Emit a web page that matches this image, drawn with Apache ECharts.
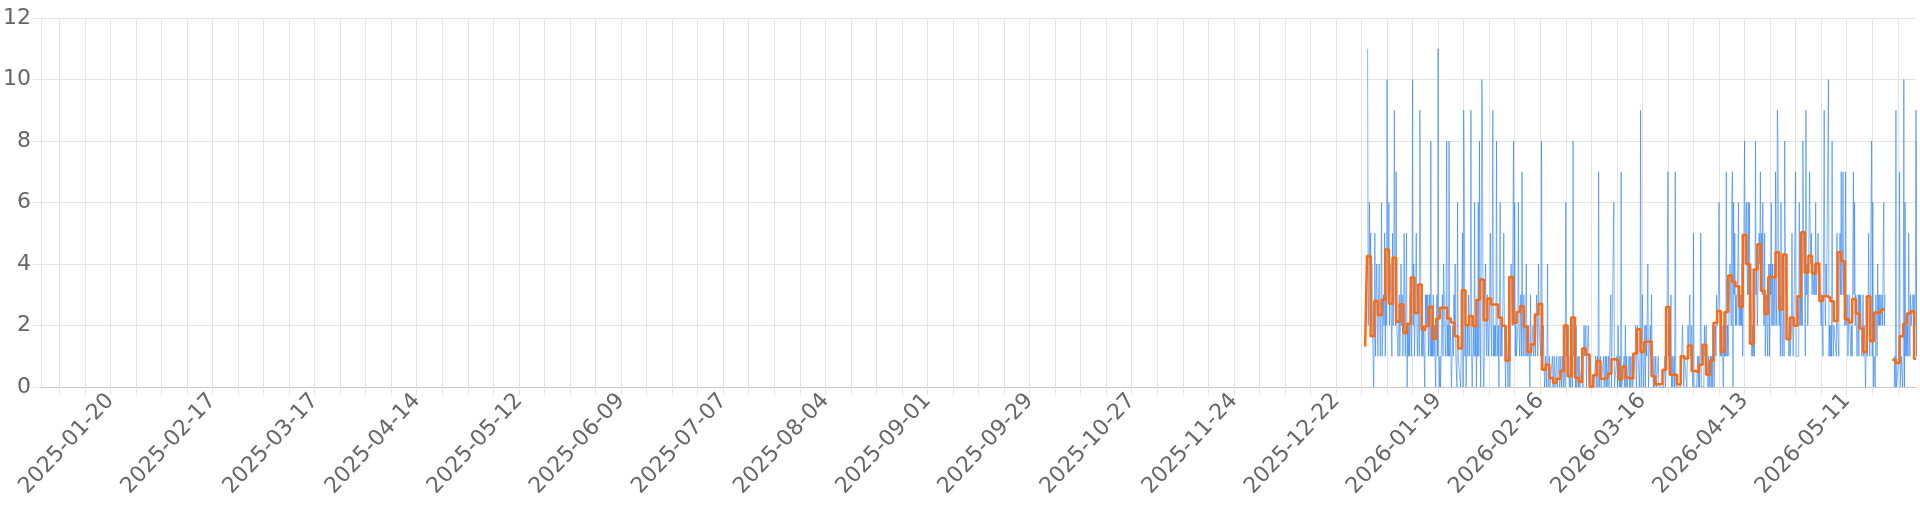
<!DOCTYPE html>
<html><head><meta charset="utf-8">
<script src="https://cdn.jsdelivr.net/npm/echarts@6/dist/echarts.min.js"></script>
<style>html,body{margin:0;padding:0;background:#fff}#c{width:1920px;height:512px}</style>
</head><body><div id="c"></div>
<script>
// ---- axis range and tick labels ----
const axisStart = [2025, 1, 1];
const axisEnd = [2026, 5, 30];
const tickLabels = ['2025-01-20','2025-02-17','2025-03-17','2025-04-14','2025-05-12','2025-06-09','2025-07-07','2025-08-04','2025-09-01','2025-09-29','2025-10-27','2025-11-24','2025-12-22','2026-01-19','2026-02-16','2026-03-16','2026-04-13','2026-05-11'];
const yTicks = [0, 2, 4, 6, 8, 10, 12];

// ---- series start (first day of data) ----
const seriesStart = [2025, 12, 30];
const samplesPerDay = 6; // blue samples every 4 hours

// ---- blue series (raw values), 6 per day ----
const blueDec = [null,null,null,null,11,2, 3,6,4,5,2,4];
const blueJan = [
2,1,0,2,5,1, 3,4,2,1,3,4, 2,1,3,6,1,2, 3,2,5,1,3,2, 10,5,3,6,2,4,
3,2,1,5,2,3, 9,3,2,7,2,2, 1,2,3,1,2,4, 2,3,1,2,5,3, 1,1,5,0,2,1,
2,1,3,2,1,3, 10,2,4,1,2,3, 5,2,1,2,3,1, 9,5,2,1,2,1, 2,1,0,3,2,3,
2,3,1,2,3,1, 8,1,2,1,3,1, 2,1,0,2,3,1, 11,1,0,1,0,1, 2,3,1,4,3,2,
1,2,8,1,2,1, 8,1,2,1,0,1, 2,1,3,2,4,1, 1,0,6,1,1,1, 1,0,1,1,5,0,
9,7,1,2,0,0, 2,1,3,2,1,3, 9,1,0,1,2,1, 6,1,2,0,2,1, 6,1,8,2,0,0,
10,8,1,0,1,1];
const blueFeb = [
4,2,1,3,2,1, 2,3,5,2,1,4, 9,1,2,1,2,1, 8,2,1,2,0,3, 6,1,2,1,2,2,
5,2,1,0,2,2, 1,0,2,1,0,1, 4,3,2,2,8,2, 6,1,2,1,1,2, 6,2,1,2,3,1,
7,2,1,3,2,1, 2,4,1,2,1,2, 1,0,3,1,1,1, 2,1,1,2,1,1, 3,2,1,4,2,2,
2,1,8,2,1,2, 1,0,0,1,0,1, 4,0,0,1,0,0, 0,0,1,0,0,1, 0,0,0,1,0,0,
0,1,0,0,1,0, 0,1,0,0,1,0, 6,1,2,1,1,1, 0,1,0,0,1,0, 8,1,2,1,0,2,
0,0,1,0,1,0, 0,0,0,1,0,0, 2,1,1,2,0,1];
const blueMar = [
1,2,1,0,1,1, 0,0,0,0,0,0, 0,1,0,0,1,0, 7,0,0,1,0,0, 0,0,1,0,0,1,
0,1,0,0,1,0, 0,0,3,0,0,0, 0,6,0,0,0,0, 1,0,2,1,0,1, 0,7,0,0,0,0,
1,0,2,0,1,0, 0,0,1,0,1,0, 0,1,0,0,0,0, 1,2,0,1,2,1, 1,0,1,9,0,0,
3,1,0,1,2,0, 2,1,1,4,0,1, 1,2,1,3,1,1, 0,1,0,0,1,0, 0,0,1,0,0,0,
0,0,0,0,0,0, 0,1,0,0,1,1, 7,1,2,1,1,3, 0,1,0,0,1,0, 7,0,0,0,0,0,
0,0,0,0,0,0, 2,1,0,1,1,1, 1,0,1,2,1,1, 3,1,1,2,1,0, 5,0,0,0,0,0,
0,1,0,1,0,1];
const blueApr = [
5,0,0,0,0,0, 2,1,1,2,1,1, 0,1,0,0,1,0, 1,0,2,1,0,1, 2,1,3,2,2,3,
6,3,1,2,1,2, 1,0,2,1,2,1, 7,1,2,1,2,2, 4,3,2,6,7,0, 6,3,5,2,3,2,
3,4,6,2,3,2, 3,2,4,1,3,3, 8,4,5,6,4,3, 6,3,6,2,4,3, 1,2,1,2,1,2,
8,3,4,2,3,3, 5,4,7,4,5,3, 6,3,2,5,1,2, 3,2,1,3,4,1, 4,3,6,2,4,2,
3,4,2,7,3,2, 9,8,3,2,3,1, 6,2,1,2,3,1, 8,5,3,4,3,3, 2,1,2,1,1,2,
5,2,1,2,2,2, 7,1,1,1,1,1, 6,2,3,2,3,2, 8,5,4,3,1,9, 3,4,2,3,3,7];
const blueMay = [
5,4,5,3,4,4, 3,4,3,6,3,3, 4,5,3,4,4,4, 2,3,2,1,1,9, 3,2,4,3,3,3,
10,1,2,1,2,1, 8,2,1,2,2,2, 2,1,5,2,2,1, 4,5,3,7,3,4, 7,3,4,2,7,2,
2,3,1,2,3,2, 2,1,2,1,1,7, 3,6,2,3,2,1, 2,3,1,3,2,3, 2,1,2,3,1,2,
1,0,1,2,1,2, 5,2,1,1,1,8, 1,6,0,1,1,0, 3,2,1,4,2,3, 2,3,2,2,3,2,
2,6,2,3,null,null, null,null,null,null,null,null, null,null,null,null,null,null,
0,1,0,9,0,0, 0,0,1,7,0,0, 1,1,0,1,10,0, 6,1,2,1,2,1, 5,2,1,3,2,2,
2,3,2,3,2,3, 9,1,8,1,0,1];

// ---- orange series (daily average) ----
const orangeDec = [1.32, 4.26];
const orangeJan = [1.65,2.80,2.33,2.84,4.47,2.71,4.20,2.12,2.69,1.76,2.06,3.56,2.41,3.33,1.85,1.98,2.61,1.57,2.23,2.58,2.58,2.23,2.10,1.65,1.25,3.15,2.01,2.31,1.98,2.84,3.50];
const orangeFeb = [2.17,2.88,2.68,2.68,2.26,1.99,0.85,3.58,2.08,2.44,2.63,1.95,1.14,1.39,2.36,2.71,0.56,0.73,0.29,0.13,0.27,0.52,2.00,0.35,2.26,0.30,0.16,1.25];
const orangeMar = [1.06,0.02,0.38,0.85,0.27,0.30,0.43,0.90,0.87,0.24,0.67,0.30,0.27,1.09,1.88,1.14,1.47,1.49,0.35,0.09,0.09,0.56,2.60,0.40,0.40,0.08,1.00,0.93,1.35,0.52,0.48];
const orangeApr = [0.72,1.37,0.40,0.86,2.09,2.47,1.14,2.44,3.63,3.42,3.28,2.60,4.94,4.00,1.41,3.82,4.64,3.13,2.37,3.58,3.55,4.38,2.52,4.31,1.55,2.26,1.99,2.95,5.03,3.72];
const orangeMay = [4.27,3.69,4.02,2.80,2.96,2.91,2.79,2.15,4.38,4.09,2.20,2.10,2.86,2.39,1.90,1.14,2.95,1.49,2.42,2.42,2.52,null,null,0.89,0.78,1.65,2.06,2.39,2.46,0.92];

// ---- build ----
function pad(n){return (n<10?'0':'')+n;}
function fmt(d){return d.getFullYear()+'-'+pad(d.getMonth()+1)+'-'+pad(d.getDate());}
const startDate = new Date(axisStart[0], axisStart[1]-1, axisStart[2]);
const endDate = new Date(axisEnd[0], axisEnd[1]-1, axisEnd[2]);
const categories = [];
const isMonday = [];
for (let d = new Date(startDate); d <= endDate; d.setDate(d.getDate()+1)) {
  categories.push(fmt(d));
  isMonday.push(d.getDay() === 1);
}
const labelSet = new Set(tickLabels);

const blueAll = [].concat(blueDec, blueJan, blueFeb, blueMar, blueApr, blueMay);
const blueData = blueAll.map(function(v, i){
  const day = Math.floor(i / samplesPerDay);
  const hour = (i % samplesPerDay) * (24 / samplesPerDay);
  const t = new Date(seriesStart[0], seriesStart[1]-1, seriesStart[2] + day, hour).getTime();
  return [t, v];
});
const orangeAll = [].concat(orangeDec, orangeJan, orangeFeb, orangeMar, orangeApr, orangeMay);
const orangeData = orangeAll.map(function(v, i){
  const t = new Date(seriesStart[0], seriesStart[1]-1, seriesStart[2] + i).getTime();
  return [t, v];
});

const gridColor = '#e4e4e4';
const textColor = '#666666';
const font = "'DejaVu Sans', Verdana, sans-serif";

const chart = echarts.init(document.getElementById('c'), null, {renderer: 'canvas'});
chart.setOption({
  animation: false,
  backgroundColor: '#ffffff',
  grid: {left: 41, right: 4, top: 18, bottom: 125, containLabel: false},
  xAxis: [{
    type: 'category',
    data: categories,
    boundaryGap: false,
    axisLine: {show: true, lineStyle: {color: '#c8c8c8', width: 1}},
    axisTick: {show: true, length: 8, interval: function(i){ return isMonday[i]; }, lineStyle: {color: gridColor}},
    splitLine: {show: true, interval: function(i){ return isMonday[i]; }, lineStyle: {color: gridColor, width: 1}},
    axisLabel: {
      interval: function(i, v){ return labelSet.has(v); },
      rotate: 47, margin: 10, color: textColor, fontSize: 22, fontFamily: font
    }
  }, {
    type: 'time',
    show: false,
    min: startDate.getTime(),
    max: endDate.getTime()
  }],
  yAxis: {
    type: 'value',
    min: yTicks[0], max: yTicks[yTicks.length-1], interval: yTicks[1]-yTicks[0],
    axisLine: {show: true, lineStyle: {color: gridColor}},
    axisTick: {show: true, length: 8, lineStyle: {color: gridColor}},
    splitLine: {show: true, lineStyle: {color: gridColor}},
    axisLabel: {color: textColor, fontSize: 22, fontFamily: font, margin: 10}
  },
  series: [{
    type: 'line',
    xAxisIndex: 1,
    data: blueData,
    symbol: 'none',
    connectNulls: false,
    lineStyle: {width: 1, color: 'rgba(30,120,245,0.55)'},
    z: 2
  }, {
    type: 'line',
    xAxisIndex: 1,
    data: orangeData,
    step: 'middle',
    symbol: 'none',
    connectNulls: false,
    lineStyle: {width: 2.5, color: '#ff6a0f'},
    z: 3
  }]
});
</script>
</body></html>
